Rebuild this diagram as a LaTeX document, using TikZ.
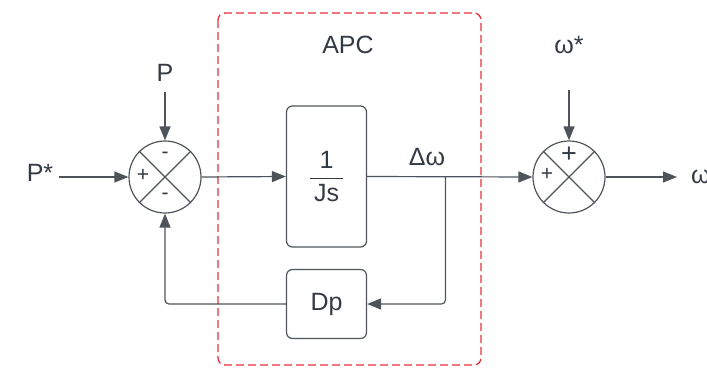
\documentclass[tikz,border=0pt]{standalone}
\usepackage{fontspec}
\setmainfont{Liberation Sans}
\usetikzlibrary{arrows.meta}
\definecolor{ink}{HTML}{343A44}
\definecolor{wire}{HTML}{4F545B}
\definecolor{frame}{HTML}{E5323C}
\tikzset{
  blk/.style={draw=wire, line width=1.2pt, rounded corners=6pt, minimum width=80pt, text=ink, font=\fontsize{25}{28}\selectfont},
  summer/.style={draw=wire, line width=1.2pt, circle, minimum size=72pt, inner sep=0pt},
  lbl/.style={text=ink, font=\fontsize{25}{28}\selectfont},
  sgn/.style={text=ink, font=\fontsize{21}{24}\selectfont, inner sep=0pt},
  wire/.style={draw=wire, line width=1.2pt},
  arr/.style={wire, -{Triangle[length=14pt,width=11pt]}},
}
\begin{document}
\begin{tikzpicture}[x=1pt, y=-1pt]
\useasboundingbox (0,0) rectangle (707,367);
% APC frame
\draw[frame, line width=1.3pt, rounded corners=7pt, dash pattern=on 8pt off 4pt] (218,13) rectangle (481,365);
\node[lbl] (apc) at (348,45) {APC};
% summing points
\node[summer] (sum1) at (165,177) {};
\draw[wire] (sum1.north east) -- (sum1.south west);
\draw[wire] (sum1.north west) -- (sum1.south east);
\node[sgn] at (165,155) {-};
\node[sgn] at (143,175) {+};
\node[sgn] at (165,196) {-};
\node[summer] (sum2) at (569,177) {};
\draw[wire] (sum2.north east) -- (sum2.south west);
\draw[wire] (sum2.north west) -- (sum2.south east);
\node[sgn, font=\fontsize{27}{30}\selectfont] at (569,155) {+};
\node[sgn] at (547,174) {+};
% blocks
\node[blk, minimum height=141pt] (int) at (326.5,176.5) {$\displaystyle\frac{\mbox{1}}{\mbox{\,Js\,}}$};
\node[blk, minimum height=69pt] (dp) at (326.5,304) {Dp};
% labels
\node[lbl] (pstar) at (40,173) {P*};
\node[lbl] (pref) at (165,73) {P};
\node[lbl] (wstar) at (569,45) {ω*};
\node[lbl, anchor=west, inner sep=0pt] (wout) at (691,177) {ω};
\node[lbl] (dw) at (427,157) {Δω};
\coordinate (pin) at (59,177);
\coordinate (ptop) at (165,92);
\coordinate (wtop) at (569,90);
\coordinate (wend) at (677,177);
\coordinate (br) at (445.5,177);
% connections
\draw[arr] (pin) -- (sum1.west);
\draw[arr] (ptop) -- (sum1.north);
\draw[arr] (sum1.east) -- (int.west);
\draw[arr] (int.east) -- (sum2.west);
\draw[arr] (wtop) -- (sum2.north);
\draw[arr] (sum2.east) -- (wend);
\draw[arr, rounded corners=4pt] (br) |- (dp.east);
\draw[arr, rounded corners=4pt] (dp.west) -| (sum1.south);
\end{tikzpicture}
\end{document}
